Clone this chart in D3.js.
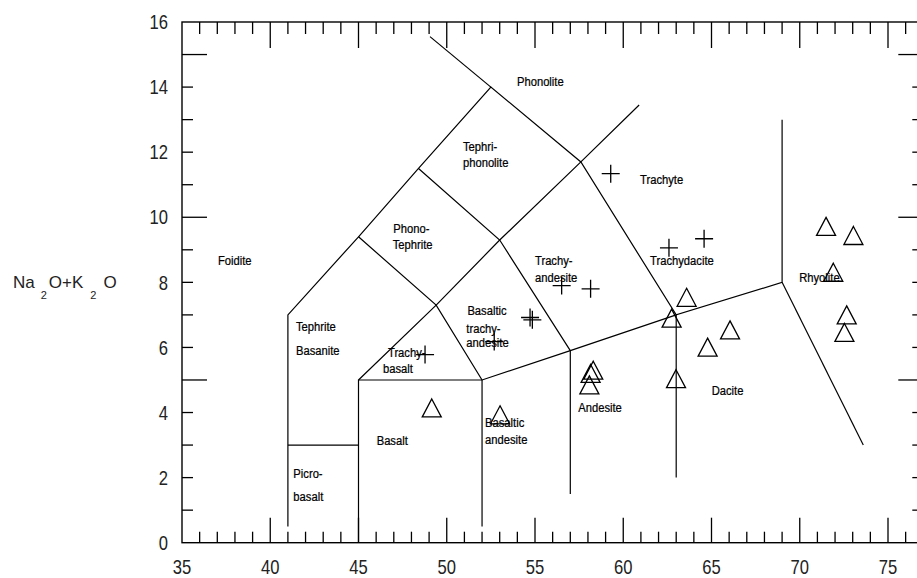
<!DOCTYPE html>
<html>
<head>
<meta charset="utf-8">
<script src="https://cdn.jsdelivr.net/npm/d3@7"></script>
<style>
  html, body { margin: 0; padding: 0; background: #fff; }
  svg { display: block; }
  .tick-label { font-family: "Liberation Sans", Arial, sans-serif; font-size: 20px; fill: #222; }
  .field { font-family: "Liberation Sans", Arial, sans-serif; font-size: 13.5px; fill: #000; stroke: #000; stroke-width: 0.25px; }
  .axis-title { font-family: "Liberation Sans", Arial, sans-serif; fill: #222; }
</style>
</head>
<body>
<svg id="chart" width="917" height="578"></svg>
<script>
// Total alkali vs. silica (TAS) classification, SiO2 wt% on x, Na2O+K2O wt% on y.

// Field boundaries, each a polyline of [SiO2, Na2O+K2O]
const boundaryLines = [
  [[41, 0.5], [41, 7], [45, 9.4], [48.4, 11.5], [52.5, 14], [57.6, 11.7], [63, 7], [69, 8], [69, 13]],
  [[49.05, 15.55], [52.5, 14]],
  [[41, 3], [45, 3]],
  [[45, 0], [45, 5], [52, 5], [57, 5.9], [63, 7]],
  [[52, 0.5], [52, 5]],
  [[57, 1.5], [57, 5.9]],
  [[63, 2], [63, 7]],
  [[69, 8], [73.6, 3]],
  [[45, 5], [49.4, 7.3], [53, 9.3], [57.6, 11.7], [60.9, 13.45]],
  [[45, 9.4], [49.4, 7.3], [52, 5]],
  [[48.4, 11.5], [53, 9.3], [57, 5.9]]
];

// Samples plotted as crosses
const crossSamples = [
  [59.29, 11.34], [62.59, 9.06], [64.58, 9.34], [56.51, 7.90], [58.15, 7.80],
  [54.72, 6.92], [54.85, 6.85], [52.69, 6.18], [48.77, 5.78]
];

// Samples plotted as open triangles
const triangleSamples = [
  [71.49, 9.72], [73.04, 9.44], [71.90, 8.31], [72.66, 7.00], [72.53, 6.46],
  [63.59, 7.54], [62.74, 6.90], [66.05, 6.54], [64.78, 6.01], [62.99, 5.04],
  [58.30, 5.30], [58.15, 5.20], [58.08, 4.85], [53.02, 3.93], [49.15, 4.14]
];

// Rock field names, one entry per text line, anchored at [SiO2, alkali]
const fieldNames = [
  ["Phonolite", 53.98, 14.18],
  ["Tephri-", 50.92, 12.18], ["phonolite", 50.92, 11.68],
  ["Phono-", 46.97, 9.68], ["Tephrite", 46.94, 9.16],
  ["Foidite", 37.04, 8.68],
  ["Tephrite", 41.46, 6.65], ["Basanite", 41.46, 5.93],
  ["Trachy-", 46.67, 5.85], ["basalt", 46.39, 5.37],
  ["Basaltic", 51.17, 7.15], ["trachy-", 51.11, 6.6], ["andesite", 51.11, 6.15],
  ["Trachy-", 55.0, 8.67], ["andesite", 55.0, 8.15],
  ["Trachyte", 60.95, 11.16],
  ["Trachydacite", 61.52, 8.68],
  ["Rhyolite", 69.97, 8.17],
  ["Dacite", 65.01, 4.68],
  ["Andesite", 57.45, 4.17],
  ["Basaltic", 52.17, 3.69], ["andesite", 52.17, 3.18],
  ["Basalt", 46.03, 3.16],
  ["Picro-", 41.31, 2.15], ["basalt", 41.31, 1.44]
];

// Axis ticks
const xTickLabels = [35, 40, 45, 50, 55, 60, 65, 70, 75];
const yTickLabels = [0, 2, 4, 6, 8, 10, 12, 14, 16];
const xMinorTicks = d3.range(36, 77);
const yMinorTicks = d3.range(1, 16);

const xDomain = [35, 77];
const yDomain = [0, 16];

const svg = d3.select("#chart");
const x = d3.scaleLinear().domain(xDomain).range([182, 182 + 42 * 17.65]);
const y = d3.scaleLinear().domain(yDomain).range([542.7, 22]);

const majorLen = 25, minorLen = 11;
const isMajor = v => v % 5 === 0;
// condensed lettering, as in the narrow plotting font
const narrow = 0.83;

// Plot frame
const frame = svg.append("g").attr("stroke", "#000").attr("stroke-width", 1.4).attr("fill", "none");
frame.append("rect")
  .attr("x", x(xDomain[0])).attr("y", y(yDomain[1]))
  .attr("width", x(xDomain[1]) - x(xDomain[0]))
  .attr("height", y(yDomain[0]) - y(yDomain[1]));

// Inward ticks on all four sides
const ticks = svg.append("g").attr("stroke", "#000").attr("stroke-width", 1.3);
xMinorTicks.forEach(v => {
  const len = isMajor(v) ? majorLen : minorLen;
  ticks.append("line").attr("x1", x(v)).attr("x2", x(v)).attr("y1", y(0)).attr("y2", y(0) - len);
  ticks.append("line").attr("x1", x(v)).attr("x2", x(v)).attr("y1", y(16)).attr("y2", y(16) + len + 1);
});
yMinorTicks.forEach(v => {
  const len = isMajor(v) ? majorLen : minorLen;
  ticks.append("line").attr("x1", x(35)).attr("x2", x(35) + len).attr("y1", y(v)).attr("y2", y(v));
  ticks.append("line").attr("x1", x(77)).attr("x2", x(77) - len).attr("y1", y(v)).attr("y2", y(v));
});

// Tick labels
svg.append("g").selectAll("text").data(xTickLabels).join("text")
  .attr("class", "tick-label")
  .attr("transform", d => `translate(${x(d)},574) scale(${narrow},1)`)
  .attr("text-anchor", "middle")
  .text(d => d);
svg.append("g").selectAll("text").data(yTickLabels).join("text")
  .attr("class", "tick-label")
  .attr("transform", d => `translate(${x(35) - 14},${y(d)}) scale(${narrow},1)`)
  .attr("dy", "0.36em")
  .attr("text-anchor", "end")
  .text(d => d);

// Y-axis title with subscripts
const title = svg.append("text").attr("class", "axis-title").attr("x", 13).attr("y", 288).attr("font-size", 17);
title.append("tspan").text("Na");
title.append("tspan").attr("font-size", 11).attr("dx", 6).attr("dy", 11).text("2");
title.append("tspan").attr("dx", 2).attr("dy", -11).text("O+K");
title.append("tspan").attr("font-size", 11).attr("dx", 7).attr("dy", 11).text("2");
title.append("tspan").attr("dx", 7).attr("dy", -11).text("O");

// Field boundaries
const line = d3.line().x(d => x(d[0])).y(d => y(d[1]));
svg.append("g").selectAll("path").data(boundaryLines).join("path")
  .attr("d", line)
  .attr("fill", "none")
  .attr("stroke", "#000")
  .attr("stroke-width", 1.2)
  .attr("stroke-linejoin", "miter");

// Field names
svg.append("g").selectAll("text").data(fieldNames).join("text")
  .attr("class", "field")
  .attr("transform", d => `translate(${x(d[1])},${y(d[2])}) scale(${narrow},1)`)
  .attr("dy", "0.36em")
  .text(d => d[0]);

// Cross markers
const half = 9;
svg.append("g").selectAll("path").data(crossSamples).join("path")
  .attr("d", d => `M${x(d[0]) - half},${y(d[1])}H${x(d[0]) + half}M${x(d[0])},${y(d[1]) - half}V${y(d[1]) + half}`)
  .attr("stroke", "#000")
  .attr("stroke-width", 1.3)
  .attr("fill", "none");

// Triangle markers
const tw = 9.5, th = 9;
svg.append("g").selectAll("path").data(triangleSamples).join("path")
  .attr("d", d => {
    const cx = x(d[0]), cy = y(d[1]);
    return `M${cx},${cy - th}L${cx + tw},${cy + th}L${cx - tw},${cy + th}Z`;
  })
  .attr("stroke", "#000")
  .attr("stroke-width", 1.3)
  .attr("fill", "none");
</script>
</body>
</html>
